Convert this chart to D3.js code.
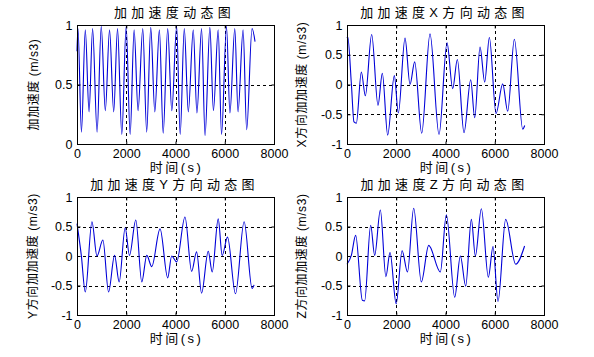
<!DOCTYPE html>
<html><head><meta charset="utf-8">
<script src="https://cdn.jsdelivr.net/npm/d3@7"></script>
<style>body{margin:0;background:#fff} svg{display:block}</style>
</head><body>
<svg id="c" width="594" height="357"></svg>
<script>
// ---- data ----
const xTicks = [0, 2000, 4000, 6000, 8000];
const yTicksTotal = [0, 0.5, 1];
const yTicksDir = [-1, -0.5, 0, 0.5, 1];
const titles = ["加加速度动态图", "加加速度X方向动态图", "加加速度Y方向动态图", "加加速度Z方向动态图"];
const yLabels = ["加加速度 (m/s3)", "X方向加加速度 (m/s3)", "Y方向加加速度 (m/s3)", "Z方向加加速度 (m/s3)"];
const xLabel = "时间(s)";

const jerkTotal = [
  [0,0.78],[40,0.97],[180,0.10],[337,0.96],[490,0.27],[634,0.97],[815,0.10],[985,0.99],
  [1150,0.28],[1322,0.96],[1490,0.27],[1646,0.97],[1820,0.08],[1997,0.99],[2158,0.08],
  [2320,0.96],[2480,0.28],[2671,0.97],[2830,0.10],[2995,0.98],[3160,0.27],[3346,0.96],
  [3500,0.09],[3683,0.97],[3850,0.28],[4047,0.99],[4190,0.08],[4357,0.97],[4520,0.27],
  [4722,0.96],[4870,0.26],[5059,0.97],[5200,0.07],[5396,0.98],[5540,0.28],[5733,0.96],
  [5870,0.08],[6071,0.99],[6210,0.26],[6408,0.97],[6540,0.27],[6745,0.96],[6890,0.12],
  [7109,0.97],[7230,0.86]
];
const jerkX = [
  [0,0.78],[30,0.80],[176,0.02],[284,-0.63],[379,-0.65],[582,0.21],[745,-0.19],[1002,0.84],
  [1259,-0.35],[1435,0.19],[1652,-0.85],[1922,0.15],[2085,-0.48],[2356,0.78],[2559,0.0],
  [2749,0.38],[3033,-0.82],[3371,0.85],[3737,-0.84],[4062,0.70],[4292,-0.07],[4481,0.42],
  [4752,-0.81],[5023,0.08],[5186,-0.56],[5402,0.63],[5592,0.04],[5781,0.79],[6052,-0.49],
  [6323,0.01],[6526,-0.45],[6797,0.76],[7136,-0.75],[7217,-0.69]
];
const jerkY = [
  [0,0.55],[175,0.01],[337,-0.61],[607,0.58],[810,0.0],[1052,0.27],[1282,-0.61],[1525,0.01],
  [1713,-0.44],[1956,0.48],[2131,0.01],[2388,0.61],[2631,-0.44],[2833,0.01],[3036,-0.18],
  [3373,0.46],[3683,-0.37],[3845,0.0],[4048,-0.10],[4385,0.66],[4655,-0.26],[4857,0.07],
  [5059,-0.63],[5329,0.08],[5491,-0.27],[5734,0.63],[5896,0.01],[6112,0.32],[6436,-0.64],
  [6787,0.58],[7111,-0.55],[7192,-0.49]
];
const jerkZ = [
  [0,-0.14],[176,0.01],[352,0.35],[623,-0.75],[717,-0.76],[961,0.52],[1124,0.01],[1354,0.78],
  [1579,-0.35],[1747,0.06],[1997,-0.81],[2237,0.09],[2457,-0.27],[2708,0.81],[3019,-0.44],
  [3317,0.18],[3790,-0.27],[4035,0.70],[4374,-0.70],[4604,0.0],[4820,-0.51],[5050,0.62],
  [5213,0.0],[5456,0.80],[5740,-0.36],[5930,0.16],[6132,-0.77],[6444,0.62],[6850,-0.14],
  [7212,0.17]
];

// ---- drawing ----
const svg = d3.select("#c");
const cjk = "'Liberation Sans','Noto Sans CJK SC',Arial,sans-serif";
const panels = [
  {x0:77, x1:274, y0:25, y1:144, data:jerkTotal, yd:[0,1], yt:yTicksTotal, lx:33},
  {x0:347, x1:544, y0:25, y1:144, data:jerkX, yd:[-1,1], yt:yTicksDir, lx:301},
  {x0:77, x1:274, y0:197, y1:315, data:jerkY, yd:[-1,1], yt:yTicksDir, lx:32},
  {x0:347, x1:544, y0:197, y1:315, data:jerkZ, yd:[-1,1], yt:yTicksDir, lx:301}
];

panels.forEach((p, i) => {
  const x = d3.scaleLinear().domain([0, 8000]).range([p.x0, p.x1]);
  const y = d3.scaleLinear().domain(p.yd).range([p.y1, p.y0]);
  const g = svg.append("g");

  // grid
  g.selectAll(".gx").data(xTicks.slice(1, -1)).enter().append("line")
    .attr("x1", d => Math.round(x(d)) + 0.5).attr("x2", d => Math.round(x(d)) + 0.5)
    .attr("y1", p.y0).attr("y2", p.y1)
    .attr("stroke", "#000").attr("stroke-width", 1).attr("stroke-dasharray", "3,3");
  g.selectAll(".gy").data(p.yt.slice(1, -1)).enter().append("line")
    .attr("y1", d => Math.round(y(d)) + 0.5).attr("y2", d => Math.round(y(d)) + 0.5)
    .attr("x1", p.x0).attr("x2", p.x1)
    .attr("stroke", "#000").attr("stroke-width", 1).attr("stroke-dasharray", "3,3");

  // line
  const line = d3.line().curve(d3.curveMonotoneX).x(d => x(d[0])).y(d => y(d[1]));
  g.append("path").datum(p.data).attr("d", line)
    .attr("fill", "none").attr("stroke", "#0000d8").attr("stroke-width", 1.1)
    .attr("stroke-linejoin", "round");

  // axes (ticks inside)
  const fmt = d => String(d);
  const xa = d3.axisBottom(x).tickValues(xTicks).tickSize(-3).tickPadding(5).tickFormat(fmt);
  const ya = d3.axisLeft(y).tickValues(p.yt).tickSize(-3).tickPadding(5).tickFormat(fmt);
  const xg = g.append("g").attr("transform", `translate(0,${p.y1 + 0.5})`).call(xa);
  const yg = g.append("g").attr("transform", `translate(${p.x0 + 0.5},0)`).call(ya);
  const xt = g.append("g").attr("transform", `translate(0,${p.y0 + 0.5})`)
    .call(d3.axisTop(x).tickValues(xTicks).tickSize(-3).tickFormat(""));
  const yr = g.append("g").attr("transform", `translate(${p.x1 + 0.5},0)`)
    .call(d3.axisRight(y).tickValues(p.yt).tickSize(-3).tickFormat(""));
  [xg, yg, xt, yr].forEach(a => {
    a.select(".domain").remove();
    a.selectAll("line").attr("stroke", "#000");
    a.selectAll("text").attr("font-family", cjk).attr("font-size", 12.5).attr("fill", "#000");
  });

  // box
  g.append("rect").attr("x", p.x0 + 0.5).attr("y", p.y0 + 0.5)
    .attr("width", p.x1 - p.x0).attr("height", p.y1 - p.y0)
    .attr("fill", "none").attr("stroke", "#000").attr("stroke-width", 1);

  const cx = (p.x0 + p.x1) / 2;
  // title
  g.append("text").attr("x", cx - 1).attr("y", p.y0 - 8)
    .attr("text-anchor", "middle").attr("font-family", cjk).attr("font-size", 13)
    .attr("letter-spacing", 4.3).text(titles[i]);
  // x label
  g.append("text").attr("x", cx + 1).attr("y", p.y1 + 28)
    .attr("text-anchor", "middle").attr("font-family", cjk).attr("font-size", 13)
    .attr("letter-spacing", 2.5).text(xLabel);
  // y label
  const cy = (p.y0 + p.y1) / 2;
  g.append("text").attr("transform", `translate(${p.lx + 5},${cy}) rotate(-90)`)
    .attr("text-anchor", "middle").attr("font-family", cjk).attr("font-size", 12)
    .attr("letter-spacing", 0.6).text(yLabels[i]);
});
</script>
</body></html>
